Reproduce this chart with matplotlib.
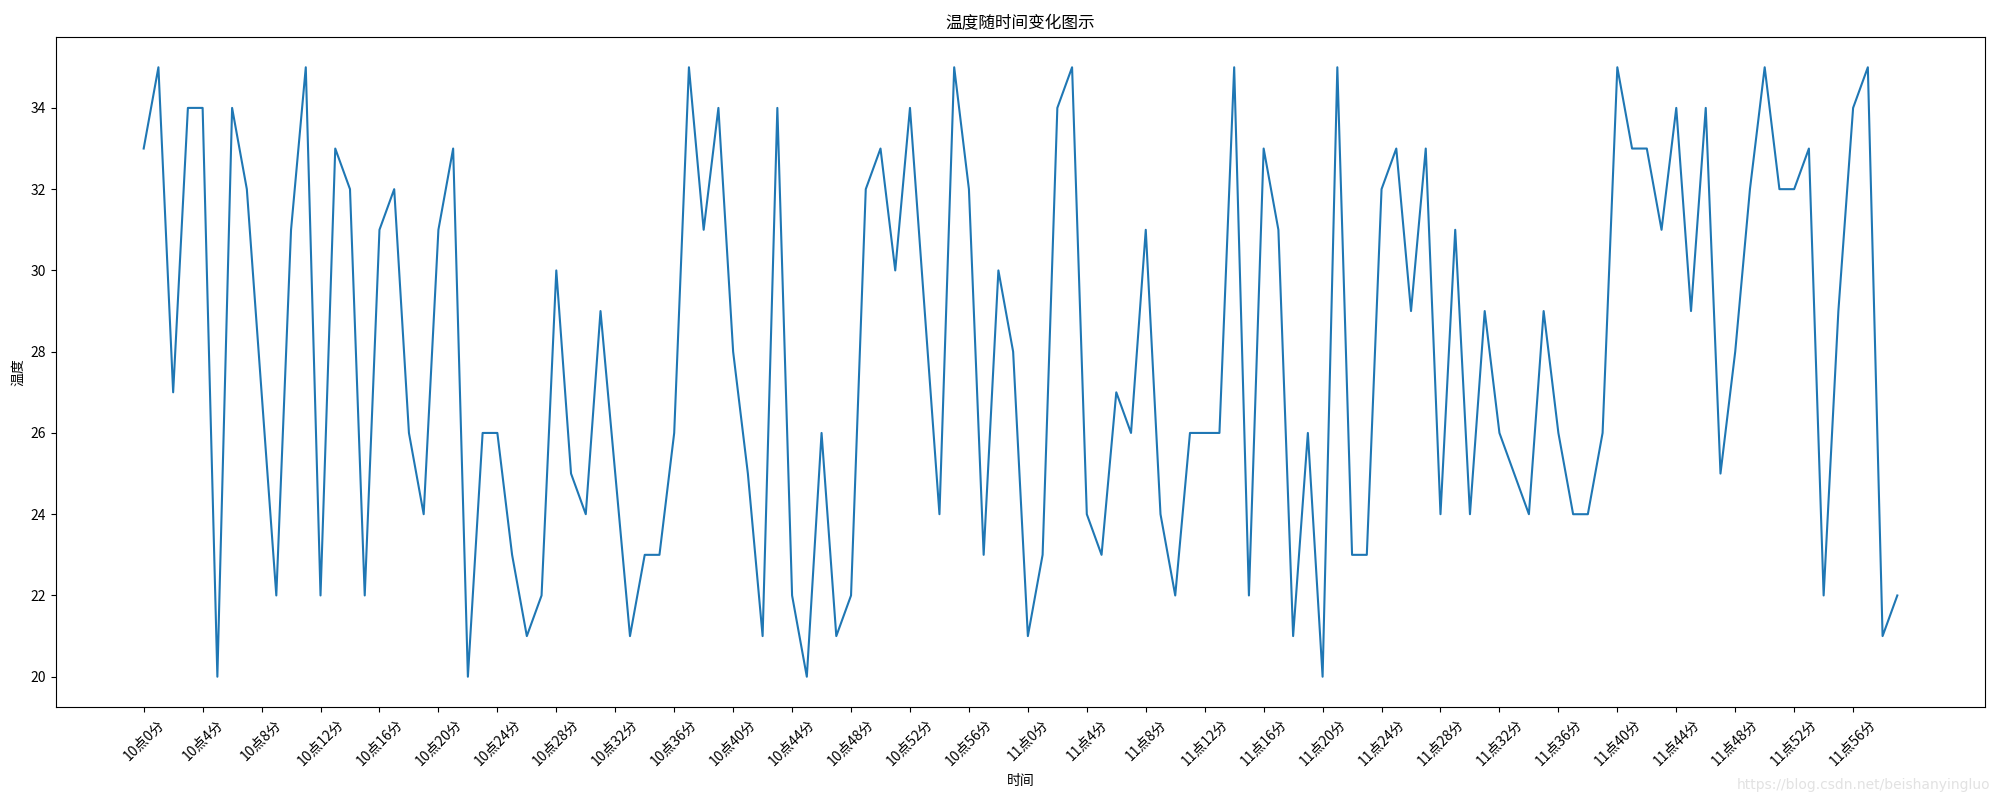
import matplotlib.pyplot as plt

plt.rcParams['font.family'] = ['Noto Sans CJK SC', 'DejaVu Sans']
plt.rcParams['axes.unicode_minus'] = False

# temperature per minute, 10:00 .. 11:59
temps = [33, 35, 27, 34, 34, 20, 34, 32, 27, 22,
         31, 35, 22, 33, 32, 22, 31, 32, 26, 24,
         31, 33, 20, 26, 26, 23, 21, 22, 30, 25,
         24, 29, 25, 21, 23, 23, 26, 35, 31, 34,
         28, 25, 21, 34, 22, 20, 26, 21, 22, 32,
         33, 30, 34, 29, 24, 35, 32, 23, 30, 28,
         21, 23, 34, 35, 24, 23, 27, 26, 31, 24,
         22, 26, 26, 26, 35, 22, 33, 31, 21, 26,
         20, 35, 23, 23, 32, 33, 29, 33, 24, 31,
         24, 29, 26, 25, 24, 29, 26, 24, 24, 26,
         35, 33, 33, 31, 34, 29, 34, 25, 28, 32,
         35, 32, 32, 33, 22, 29, 34, 35, 21, 22]
x = list(range(len(temps)))

# tick labels: "10点0分" ... "11点59分"
xtick_labels = ["10点{}分".format(i) for i in range(60)]
xtick_labels += ["11点{}分".format(i) for i in range(60)]

fig = plt.figure(figsize=(20, 8), dpi=100)
plt.subplots_adjust(left=0.028, right=0.9925, top=0.954, bottom=0.116)

plt.plot(x, temps)

# show every 4th minute
plt.xticks(x[::4], xtick_labels[::4], rotation=45)

plt.xlabel("时间")
plt.ylabel("温度")
plt.title("温度随时间变化图示")

# blog watermark
fig.text(0.995, 0.01, "https://blog.csdn.net/beishanyingluo", ha='right', va='bottom',
         color='#e2e2e2', fontsize=10, family=['DejaVu Sans'])

plt.savefig("out.png")
